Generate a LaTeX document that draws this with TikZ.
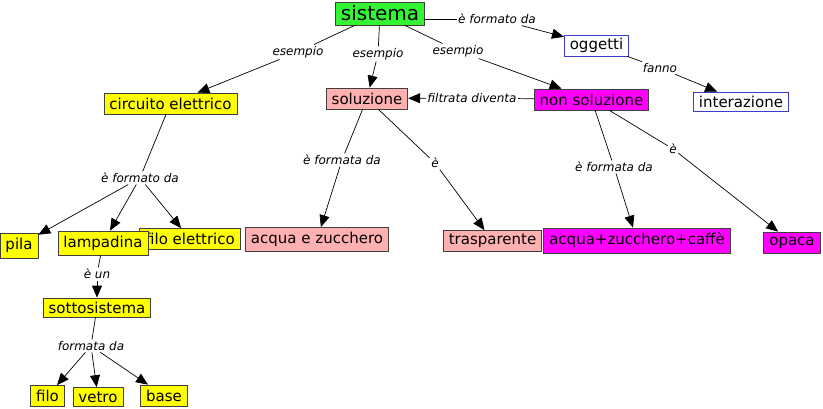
\documentclass[tikz,border=0pt]{standalone}
\usepackage{fontspec}
\setmainfont{DejaVu Sans}
\usetikzlibrary{arrows.meta}
\definecolor{verde}{RGB}{51,245,51}
\definecolor{giallo}{RGB}{255,255,0}
\definecolor{rosa}{RGB}{255,176,176}
\definecolor{viola}{RGB}{255,0,255}
\definecolor{blub}{RGB}{60,60,200}

\begin{document}
\begin{tikzpicture}[x=1pt,y=-1pt,
  concetto/.style={draw=black!75,line width=0.7pt,inner xsep=5.5pt,inner ysep=0pt,minimum height=21pt,font=\fontsize{15}{15}\selectfont},
  legame/.style={fill=white,inner sep=1.5pt,font=\fontsize{12}{12}\selectfont\itshape},
  linea/.style={line width=0.7pt},
  freccia/.style={line width=0.7pt,-{Triangle[length=12pt,width=10pt]}}]
\useasboundingbox (0,0) rectangle (823,409);
% concetti
\node[concetto,fill=verde,minimum height=23pt,font=\fontsize{20}{20}\selectfont] (sis) at (380,13.5){sistema};
\node[concetto,draw=blub,fill=white] (ogg) at (596.5,45.5){oggetti};
\node[concetto,draw=blub,fill=white,minimum height=19pt] (int) at (741,101.5){interazione};
\node[concetto,fill=giallo] (circ) at (170.5,103.5){circuito elettrico};
\node[concetto,fill=rosa] (sol) at (367,98.5){soluzione};
\node[concetto,fill=viola] (nsol) at (591.5,99.5){non soluzione};
\node[concetto,fill=giallo,minimum height=25pt] (pila) at (19,245.5){pila};
\node[concetto,fill=giallo] (filoel) at (190,239){filo elettrico};
\node[concetto,fill=giallo,minimum height=24pt] (lamp) at (103,243){lampadina};
\node[concetto,fill=rosa,minimum height=24pt] (acz) at (317,239.5){acqua e zucchero};
\node[concetto,fill=rosa] (trasp) at (492.5,241){trasparente};
\node[concetto,fill=viola,minimum height=25pt] (azc) at (637,240.5){acqua+zucchero+caffè};
\node[concetto,fill=viola] (opaca) at (792,242.5){opaca};
\node[concetto,fill=giallo,minimum height=19pt] (sotto) at (97,307.5){sottosistema};
\node[concetto,fill=giallo] (filo) at (47.5,396){filo};
\node[concetto,fill=giallo,minimum height=19pt] (vetro) at (98,397){vetro};
\node[concetto,fill=giallo] (base) at (164,395.5){base};
% frasi legame
\node[legame] (lsis1) at (298,52){esempio};
\node[legame] (lsis2) at (378,54){esempio};
\node[legame] (lsis3) at (458,51){esempio};
\node[legame] (lsis4) at (497,19){è formato da};
\node[legame] (logg) at (660,68){fanno};
\node[legame] (lnsol) at (472,98){filtrata diventa};
\node[legame] (lcirc) at (140,178){è formato da};
\node[legame] (lsol1) at (342,160){è formata da};
\node[legame] (lsol2) at (435,163){è};
\node[legame] (lnsol1) at (614,167){è formata da};
\node[legame] (lnsol2) at (673,149){è};
\node[legame] (llamp) at (97,274){è un};
\node[legame] (lsotto) at (91,346){formata da};
% collegamenti
\draw[linea] (sis) -- (lsis1); \draw[freccia] (lsis1) -- (circ);
\draw[linea] (sis) -- (lsis2); \draw[freccia] (lsis2) -- (sol);
\draw[linea] (sis) -- (lsis3); \draw[freccia] (lsis3) -- (nsol);
\draw[linea] (sis.east |- lsis4) -- (lsis4); \draw[freccia] (lsis4) -- (ogg);
\draw[linea] (ogg) -- (logg); \draw[freccia] (logg) -- (int);
\draw[linea] (nsol) -- (lnsol); \draw[freccia] (lnsol) -- (sol);
\draw[linea] (circ) -- (lcirc);
\foreach \t in {pila,lamp,filoel} {\draw[freccia] (lcirc) -- (\t);}
\draw[linea] (sol) -- (lsol1); \draw[freccia] (lsol1) -- (acz);
\draw[linea] (sol) -- (lsol2); \draw[freccia] (lsol2) -- (trasp);
\draw[linea] (nsol) -- (lnsol1); \draw[freccia] (lnsol1) -- (azc);
\draw[linea] (nsol) -- (lnsol2); \draw[freccia] (lnsol2) -- (opaca);
\draw[linea] (lamp) -- (llamp); \draw[freccia] (llamp) -- (sotto);
\draw[linea] (sotto) -- (lsotto);
\foreach \t in {filo,vetro,base} {\draw[freccia] (lsotto) -- (\t);}
\end{tikzpicture}
\end{document}
